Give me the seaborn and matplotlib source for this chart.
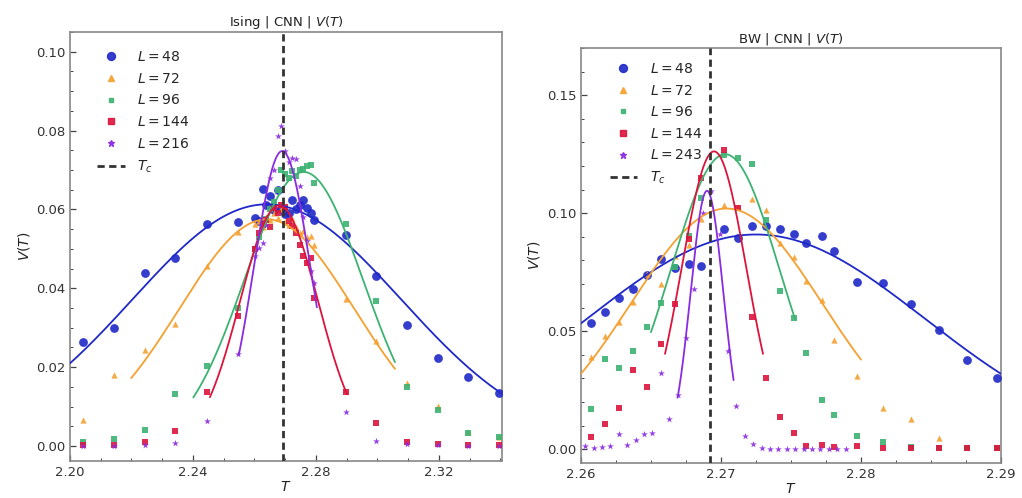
import numpy as np
import pandas as pd
import matplotlib
matplotlib.use("Agg")
import matplotlib.pyplot as plt
from matplotlib.lines import Line2D
from matplotlib.ticker import MultipleLocator, FormatStrFormatter
import seaborn as sns

sns.set_theme(style="white")
plt.rcParams["font.family"] = ["DejaVu Sans"]
plt.rcParams["mathtext.fontset"] = "dejavusans"

TC = 2.26919

# ---------------- Ising panel data ----------------
ising_sizes = [48, 72, 96, 144, 216]
ising_T_outer_lo = [2.2043, 2.2143, 2.2244, 2.2343, 2.2446, 2.2545]
ising_T_mid = [2.2603, 2.2615, 2.2627, 2.2639, 2.2651, 2.2663, 2.2675, 2.2687, 2.2699,
               2.2711, 2.2723, 2.2735, 2.2747, 2.2759, 2.2771, 2.2783, 2.2795]
ising_T_outer_hi = [2.2897, 2.2996, 2.3095, 2.3196, 2.3296, 2.3395]

ising_L48_lo = [0.0264, 0.0299, 0.0439, 0.0477, 0.0562, 0.0567]
ising_L48_mid = [0.0579, 0.0570, 0.0651, 0.0610, 0.0634, 0.0598, 0.0650, 0.0600, 0.0588,
                 0.0590, 0.0625, 0.0600, 0.0612, 0.0625, 0.0604, 0.0590, 0.0573]
ising_L48_hi = [0.0534, 0.0430, 0.0307, 0.0223, 0.0175, 0.0134]

ising_L72_lo = [0.0066, 0.0180, 0.0244, 0.0310, 0.0456, 0.0543]
ising_L72_mid = [0.0562, 0.0570, 0.0555, 0.0580, 0.0572, 0.0590, 0.0578, 0.0600, 0.0568,
                 0.0560, 0.0575, 0.0555, 0.0540, 0.0545, 0.0530, 0.0532, 0.0510]
ising_L72_hi = [0.0372, 0.0267, 0.0160, 0.0102, 0.0035, 0.0024]

ising_L96_lo = [0.0011, 0.0019, 0.0041, 0.0132, 0.0202, 0.0350]
ising_L96_mid = [0.0500, 0.0530, 0.0560, 0.0575, 0.0600, 0.0620, 0.0650, 0.0700, 0.0690,
                 0.0680, 0.0697, 0.0684, 0.0701, 0.0703, 0.0710, 0.0712, 0.0668]
ising_L96_hi = [0.0563, 0.0367, 0.0150, 0.0091, 0.0032, 0.0024]

ising_L144_lo = [0.0003, 0.0003, 0.0009, 0.0039, 0.0136, 0.0329]
ising_L144_mid = [0.0500, 0.0541, 0.0560, 0.0574, 0.0555, 0.0604, 0.0590, 0.0612, 0.0605,
                  0.0570, 0.0557, 0.0541, 0.0510, 0.0481, 0.0464, 0.0477, 0.0375]
ising_L144_hi = [0.0138, 0.0059, 0.0011, 0.0004, 0.0003, 0.0003]

ising_L216_lo = [0.0001, 0.0001, 0.0003, 0.0007, 0.0063, 0.0233]
ising_L216_mid = [0.0481, 0.0502, 0.0515, 0.0560, 0.0680, 0.0701, 0.0786, 0.0811, 0.0748,
                  0.0720, 0.0731, 0.0727, 0.0660, 0.0580, 0.0520, 0.0443, 0.0413]
ising_L216_hi = [0.0087, 0.0013, 0.0005, 0.0002, 0.0001, 0.0001]

# Gaussian fit parameters per size: peak height, centre, width, fit range
ising_fit_peak = [0.0613, 0.0575, 0.0695, 0.0610, 0.0748]
ising_fit_center = [2.2640, 2.2640, 2.2760, 2.2680, 2.2690]
ising_fit_width = [0.0437, 0.0284, 0.0193, 0.0126, 0.0092]
ising_fit_lo = [2.2000, 2.2199, 2.2401, 2.2455, 2.2549]
ising_fit_hi = [2.3400, 2.3057, 2.3057, 2.2901, 2.2803]

# ---------------- BW panel data ----------------
bw_sizes = [48, 72, 96, 144, 243]
bw_T_grid = [2.2607, 2.2617, 2.2627, 2.2637, 2.2647, 2.2657, 2.2667, 2.2677, 2.2686,
             2.2702, 2.2712, 2.2722, 2.2732, 2.2742, 2.2752, 2.2761, 2.2772, 2.2781,
             2.2797, 2.2816, 2.2836, 2.2856, 2.2876, 2.2897]
bw_L48 = [0.0534, 0.0583, 0.0639, 0.0677, 0.0738, 0.0806, 0.0768, 0.0787, 0.0778,
          0.0933, 0.0895, 0.0947, 0.0944, 0.0933, 0.0914, 0.0872, 0.0904, 0.0839,
          0.0707, 0.0703, 0.0616, 0.0506, 0.0379, 0.0301]
bw_L72 = [0.0390, 0.0478, 0.0538, 0.0623, 0.0743, 0.0700, 0.0820, 0.0866, 0.0975,
          0.1033, 0.1025, 0.1060, 0.1013, 0.0872, 0.0813, 0.0714, 0.0634, 0.0464,
          0.0309, 0.0176, 0.0127, 0.0048, 0.0010, 0.0010]
bw_L96 = [0.0172, 0.0383, 0.0345, 0.0415, 0.0520, 0.0618, 0.0772, 0.0905, 0.1066,
          0.1245, 0.1232, 0.1208, 0.0973, 0.0669, 0.0557, 0.0407, 0.0210, 0.0144,
          0.0055, 0.0031, 0.0010, 0.0005, 0.0005, 0.0005]
bw_L144 = [0.0052, 0.0109, 0.0176, 0.0337, 0.0263, 0.0447, 0.0616, 0.0893, 0.1148,
           0.1267, 0.1022, 0.0562, 0.0301, 0.0137, 0.0071, 0.0012, 0.0018, 0.0010,
           0.0012, 0.0004, 0.0004, 0.0004, 0.0004, 0.0004]
bw_T_L243 = [2.2603, 2.2609, 2.2615, 2.2621, 2.2627, 2.2633, 2.2639, 2.2645, 2.2651,
             2.2657, 2.2663, 2.2669, 2.2675, 2.2681, 2.2687, 2.2693, 2.2699, 2.2705,
             2.2711, 2.2717, 2.2723, 2.2729, 2.2735, 2.2741, 2.2747, 2.2753, 2.2759,
             2.2765, 2.2771, 2.2777, 2.2783, 2.2789]
bw_L243 = [0.0014, 0.0007, 0.0010, 0.0013, 0.0063, 0.0017, 0.0038, 0.0066, 0.0071,
           0.0323, 0.0130, 0.0228, 0.0470, 0.0679, 0.1003, 0.1095, 0.0912, 0.0418,
           0.0183, 0.0056, 0.0021, 0.0007, 0.0003, 0.0003, 0.0003, 0.0003, 0.0003,
           0.0003, 0.0003, 0.0003, 0.0003, 0.0003]

bw_fit_peak = [0.0910, 0.1020, 0.1250, 0.1262, 0.1095]
bw_fit_center = [2.2725, 2.2704, 2.2703, 2.2695, 2.2690]
bw_fit_width = [0.0121, 0.00683, 0.0039, 0.00232, 0.00117]
bw_fit_lo = [2.2600, 2.2600, 2.2650, 2.2660, 2.2669]
bw_fit_hi = [2.2900, 2.2800, 2.2753, 2.2730, 2.2709]

# ---------------- styling ----------------
colors = ["#1f28c8", "#f5a030", "#3cb371", "#dc143c", "#8a2be2"]
markers = ["o", "^", "s", "s", "*"]
marker_area = [40, 20, 13, 20, 26]


def gaussian(T, peak, center, width):
    return peak * np.exp(-(T - center) ** 2 / (2 * width ** 2))


def build_frame(sizes, T_lists, V_lists):
    frames = []
    for L, Ts, Vs in zip(sizes, T_lists, V_lists):
        frames.append(pd.DataFrame({"T": Ts, "V": Vs, "L": L}))
    return pd.concat(frames, ignore_index=True)


ising_df = build_frame(
    ising_sizes,
    [ising_T_outer_lo + ising_T_mid + ising_T_outer_hi] * 5,
    [ising_L48_lo + ising_L48_mid + ising_L48_hi,
     ising_L72_lo + ising_L72_mid + ising_L72_hi,
     ising_L96_lo + ising_L96_mid + ising_L96_hi,
     ising_L144_lo + ising_L144_mid + ising_L144_hi,
     ising_L216_lo + ising_L216_mid + ising_L216_hi],
)
bw_df = build_frame(
    bw_sizes,
    [bw_T_grid, bw_T_grid, bw_T_grid, bw_T_grid, bw_T_L243],
    [bw_L48, bw_L72, bw_L96, bw_L144, bw_L243],
)


def draw_panel(ax, df, sizes, fit_peak, fit_center, fit_width, fit_lo, fit_hi, title, anchor):
    for i, L in enumerate(sizes):
        sub = df[df["L"] == L]
        sns.scatterplot(data=sub, x="T", y="V", ax=ax, color=colors[i], marker=markers[i],
                        s=marker_area[i], linewidth=0, alpha=0.9, legend=False, zorder=3)
    for i, L in enumerate(sizes):
        Tf = np.linspace(fit_lo[i], fit_hi[i], 300)
        fit_df = pd.DataFrame({"T": Tf, "V": gaussian(Tf, fit_peak[i], fit_center[i], fit_width[i])})
        sns.lineplot(data=fit_df, x="T", y="V", ax=ax, color=colors[i], lw=1.3,
                     legend=False, zorder=4, estimator=None, sort=False)
    ax.axvline(TC, color="#333333", lw=2.0, ls=(0, (2.6, 1.6)), zorder=5)

    handles = [Line2D([], [], ls="none", marker=markers[i], color=colors[i],
                      markersize=np.sqrt(marker_area[i]) * 0.9, alpha=0.9)
               for i in range(len(sizes))]
    handles.append(Line2D([], [], color="#333333", lw=2.0, ls=(0, (2.6, 1.6))))
    labels = [rf"$L = {L}$" for L in sizes] + [r"$T_c$"]
    ax.legend(handles, labels, loc="upper left", frameon=False, fontsize=10,
              handlelength=2.0, handletextpad=0.9, labelspacing=0.55,
              borderaxespad=0.6, bbox_to_anchor=anchor)

    ax.set_title(title, fontsize=9.5, color="#222222", pad=4)
    ax.set_xlabel(r"$T$", fontsize=10, labelpad=1, color="#222222")
    ax.set_ylabel(r"$V(T)$", fontsize=10, labelpad=3, color="#222222")
    ax.tick_params(which="both", direction="in", left=True, bottom=True, top=False,
                   right=False, colors="#444444", labelcolor="#333333")
    ax.tick_params(which="major", length=4, width=0.9, labelsize=9.5)
    ax.tick_params(which="minor", length=2.2, width=0.7)
    for sp in ax.spines.values():
        sp.set_color("#888888")
        sp.set_linewidth(1.2)
    ax.set_facecolor("white")


fig = plt.figure(figsize=(10.22, 4.98), dpi=100)
fig.patch.set_facecolor("white")

ax1 = fig.add_axes([70 / 1022, 1 - 461 / 498, 432 / 1022, 429 / 498])
draw_panel(ax1, ising_df, ising_sizes, ising_fit_peak, ising_fit_center, ising_fit_width,
           ising_fit_lo, ising_fit_hi, r"Ising | CNN | $V(T)$", (0.03, 0.99))
ax1.set_xlim(2.20, 2.3405)
ax1.set_ylim(-0.0038, 0.105)
ax1.xaxis.set_major_locator(MultipleLocator(0.04))
ax1.xaxis.set_minor_locator(MultipleLocator(0.01))
ax1.yaxis.set_major_locator(MultipleLocator(0.02))
ax1.yaxis.set_minor_locator(MultipleLocator(0.005))
ax1.xaxis.set_major_formatter(FormatStrFormatter("%.2f"))
ax1.yaxis.set_major_formatter(FormatStrFormatter("%.2f"))

ax2 = fig.add_axes([581 / 1022, 1 - 463 / 498, 420 / 1022, 415 / 498])
draw_panel(ax2, bw_df, bw_sizes, bw_fit_peak, bw_fit_center, bw_fit_width,
           bw_fit_lo, bw_fit_hi, r"BW | CNN | $V(T)$", (0.035, 1.0))
ax2.set_xlim(2.26, 2.29)
ax2.set_ylim(-0.0058, 0.17)
ax2.xaxis.set_major_locator(MultipleLocator(0.01))
ax2.xaxis.set_minor_locator(MultipleLocator(0.0025))
ax2.yaxis.set_major_locator(MultipleLocator(0.05))
ax2.yaxis.set_minor_locator(MultipleLocator(0.01))
ax2.xaxis.set_major_formatter(FormatStrFormatter("%.2f"))
ax2.yaxis.set_major_formatter(FormatStrFormatter("%.2f"))

fig.savefig("out.png", dpi=100, facecolor="white")
